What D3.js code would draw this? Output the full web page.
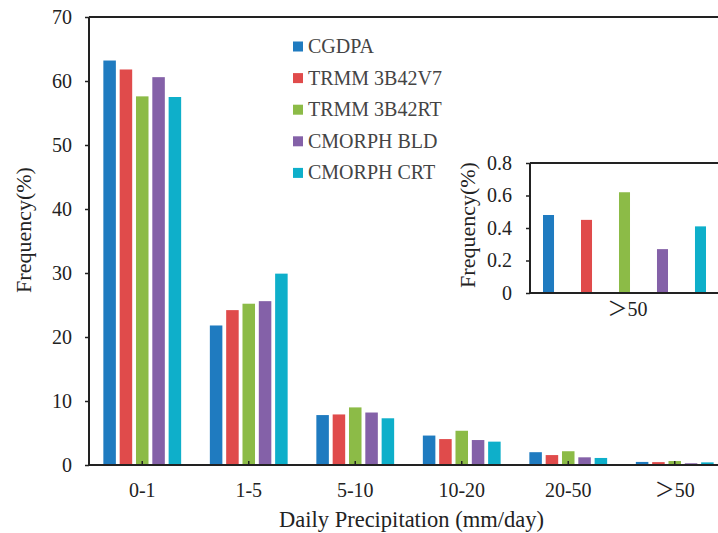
<!DOCTYPE html>
<html>
<head>
<meta charset="utf-8">
<script src="https://cdn.jsdelivr.net/npm/d3@7"></script>
<style>
  html, body { margin: 0; padding: 0; background: #fff; }
  svg { display: block; }
  text { font-family: "Liberation Serif", "Times New Roman", serif; }
</style>
</head>
<body>
<svg id="chart" width="718" height="533"></svg>
<script>
// Precipitation-intensity classes and the five products compared
const categories = ["0-1", "1-5", "5-10", "10-20", "20-50", "\uFF1E50"];
const seriesNames = ["CGDPA", "TRMM 3B42V7", "TRMM 3B42RT", "CMORPH BLD", "CMORPH CRT"];
const seriesColors = ["#1f7bc0", "#e04b4b", "#8cbb47", "#8461a8", "#0eafca"];

// Frequency (%) of each class, one array per product
const cgdpa      = [63.2, 21.8, 7.8, 4.6, 2.0, 0.48];
const trmmV7     = [61.8, 24.2, 7.9, 4.05, 1.55, 0.45];
const trmmRT     = [57.6, 25.2, 9.0, 5.35, 2.15, 0.62];
const cmorphBld  = [60.6, 25.6, 8.2, 3.9, 1.2, 0.27];
const cmorphCrt  = [57.5, 29.9, 7.3, 3.65, 1.1, 0.41];
const seriesValues = [cgdpa, trmmV7, trmmRT, cmorphBld, cmorphCrt];

const yTicks = [0, 10, 20, 30, 40, 50, 60, 70];
const insetTicks = [0, 0.2, 0.4, 0.6, 0.8];
const insetCategory = "\uFF1E50";

const svg = d3.select("#chart");
const axisColor = "#222";
const font = "20px";

// ---- main panel (plot area runs slightly past the right edge) ----
const mLeft = 89, mTop = 17, mBottom = 465, mRight = 728;
const x0 = d3.scaleBand().domain(categories).range([mLeft, mRight]);
const x1 = d3.scaleBand().domain(seriesNames).range([-38.9, 38.9]).paddingInner(0.233);
const y = d3.scaleLinear().domain([0, 70]).range([mBottom, mTop]);

const groups = svg.append("g").selectAll("g")
  .data(categories)
  .join("g")
  .attr("transform", d => `translate(${x0(d) + x0.bandwidth() / 2},0)`);

groups.selectAll("rect")
  .data((c, i) => seriesNames.map((s, k) => ({ s, k, v: seriesValues[k][i] })))
  .join("rect")
  .attr("x", d => x1(d.s))
  .attr("width", x1.bandwidth())
  .attr("y", d => y(d.v))
  .attr("height", d => y(0) - y(d.v))
  .attr("fill", d => seriesColors[d.k]);

// y axis
const yAxis = svg.append("g")
  .attr("transform", `translate(${mLeft},0)`)
  .call(d3.axisLeft(y).tickValues(yTicks).tickSize(4).tickPadding(13).tickFormat(d3.format("d")));
yAxis.select(".domain").attr("stroke", axisColor).attr("stroke-width", 2)
  .attr("d", `M0,${mTop}V${mBottom}`);
yAxis.selectAll(".tick line").attr("stroke", axisColor).attr("stroke-width", 1.5);
yAxis.selectAll(".tick text").attr("font-size", font).attr("fill", "#222")
  .style("font-family", "'Liberation Serif', serif");

// x axis: ticks at category centres pointing inward
const xAxis = svg.append("g")
  .attr("transform", `translate(0,${mBottom})`)
  .call(d3.axisBottom(x0).tickSize(-4).tickPadding(18));
xAxis.select(".domain").attr("stroke", axisColor).attr("stroke-width", 2)
  .attr("d", `M${mLeft},0H${mRight}`);
xAxis.selectAll(".tick line").attr("stroke", axisColor).attr("stroke-width", 1.5);
xAxis.selectAll(".tick text").attr("font-size", font).attr("fill", "#222")
  .style("font-family", "'Liberation Serif', 'Noto Sans CJK SC', serif");

// top frame line
svg.append("line")
  .attr("x1", mLeft).attr("x2", mRight).attr("y1", mTop).attr("y2", mTop)
  .attr("stroke", axisColor).attr("stroke-width", 2);

// axis titles
svg.append("text")
  .attr("transform", "translate(31,230) rotate(-90)")
  .attr("text-anchor", "middle").attr("font-size", "22px").attr("fill", "#222")
  .text("Frequency(%)");
svg.append("text")
  .attr("x", (mLeft + mRight) / 2 + 3).attr("y", 527)
  .attr("text-anchor", "middle").attr("font-size", "22.5px").attr("fill", "#222")
  .text("Daily Precipitation (mm/day)");

// legend
const legend = svg.append("g").selectAll("g")
  .data(seriesNames)
  .join("g")
  .attr("transform", (d, i) => `translate(293,${46.5 + i * 31.6})`);
legend.append("rect")
  .attr("x", 0).attr("y", -5).attr("width", 10).attr("height", 10)
  .attr("fill", (d, i) => seriesColors[i]);
legend.append("text")
  .attr("x", 15).attr("y", 6.5)
  .attr("font-size", font).attr("fill", "#444")
  .text(d => d);

// ---- inset panel for the >50 class ----
const iLeft = 530, iTop = 163, iBottom = 293;
const ix = d3.scaleBand().domain(seriesNames).range([543, 706]).paddingInner(0.71);
const iy = d3.scaleLinear().domain([0, 0.8]).range([iBottom, iTop]);
const lastIdx = categories.length - 1;

svg.append("g").selectAll("rect")
  .data(seriesNames.map((s, k) => ({ s, k, v: seriesValues[k][lastIdx] })))
  .join("rect")
  .attr("x", d => ix(d.s))
  .attr("width", ix.bandwidth())
  .attr("y", d => iy(d.v))
  .attr("height", d => iy(0) - iy(d.v))
  .attr("fill", d => seriesColors[d.k]);

const iyAxis = svg.append("g")
  .attr("transform", `translate(${iLeft},0)`)
  .call(d3.axisLeft(iy).tickValues(insetTicks).tickSize(4).tickPadding(14)
    .tickFormat(d => d === 0 ? "0" : d3.format(".1f")(d)));
iyAxis.select(".domain").attr("stroke", axisColor).attr("stroke-width", 2)
  .attr("d", `M0,${iTop}V${iBottom}`);
iyAxis.selectAll(".tick line").attr("stroke", axisColor).attr("stroke-width", 1.5);
iyAxis.selectAll(".tick text").attr("font-size", font).attr("fill", "#222")
  .style("font-family", "'Liberation Serif', serif");

svg.append("line")
  .attr("x1", iLeft).attr("x2", mRight).attr("y1", iBottom).attr("y2", iBottom)
  .attr("stroke", axisColor).attr("stroke-width", 2);
svg.append("line")
  .attr("x1", iLeft).attr("x2", mRight).attr("y1", iTop).attr("y2", iTop)
  .attr("stroke", axisColor).attr("stroke-width", 2);

svg.append("text")
  .attr("x", (ix.range()[0] + ix.range()[1]) / 2 + 3).attr("y", 316)
  .attr("text-anchor", "middle").attr("font-size", font).attr("fill", "#222")
  .style("font-family", "'Liberation Serif', 'Noto Sans CJK SC', serif")
  .text(insetCategory);
svg.append("text")
  .attr("transform", `translate(475,225) rotate(-90)`)
  .attr("text-anchor", "middle").attr("font-size", "22px").attr("fill", "#222")
  .text("Frequency(%)");
</script>
</body>
</html>
